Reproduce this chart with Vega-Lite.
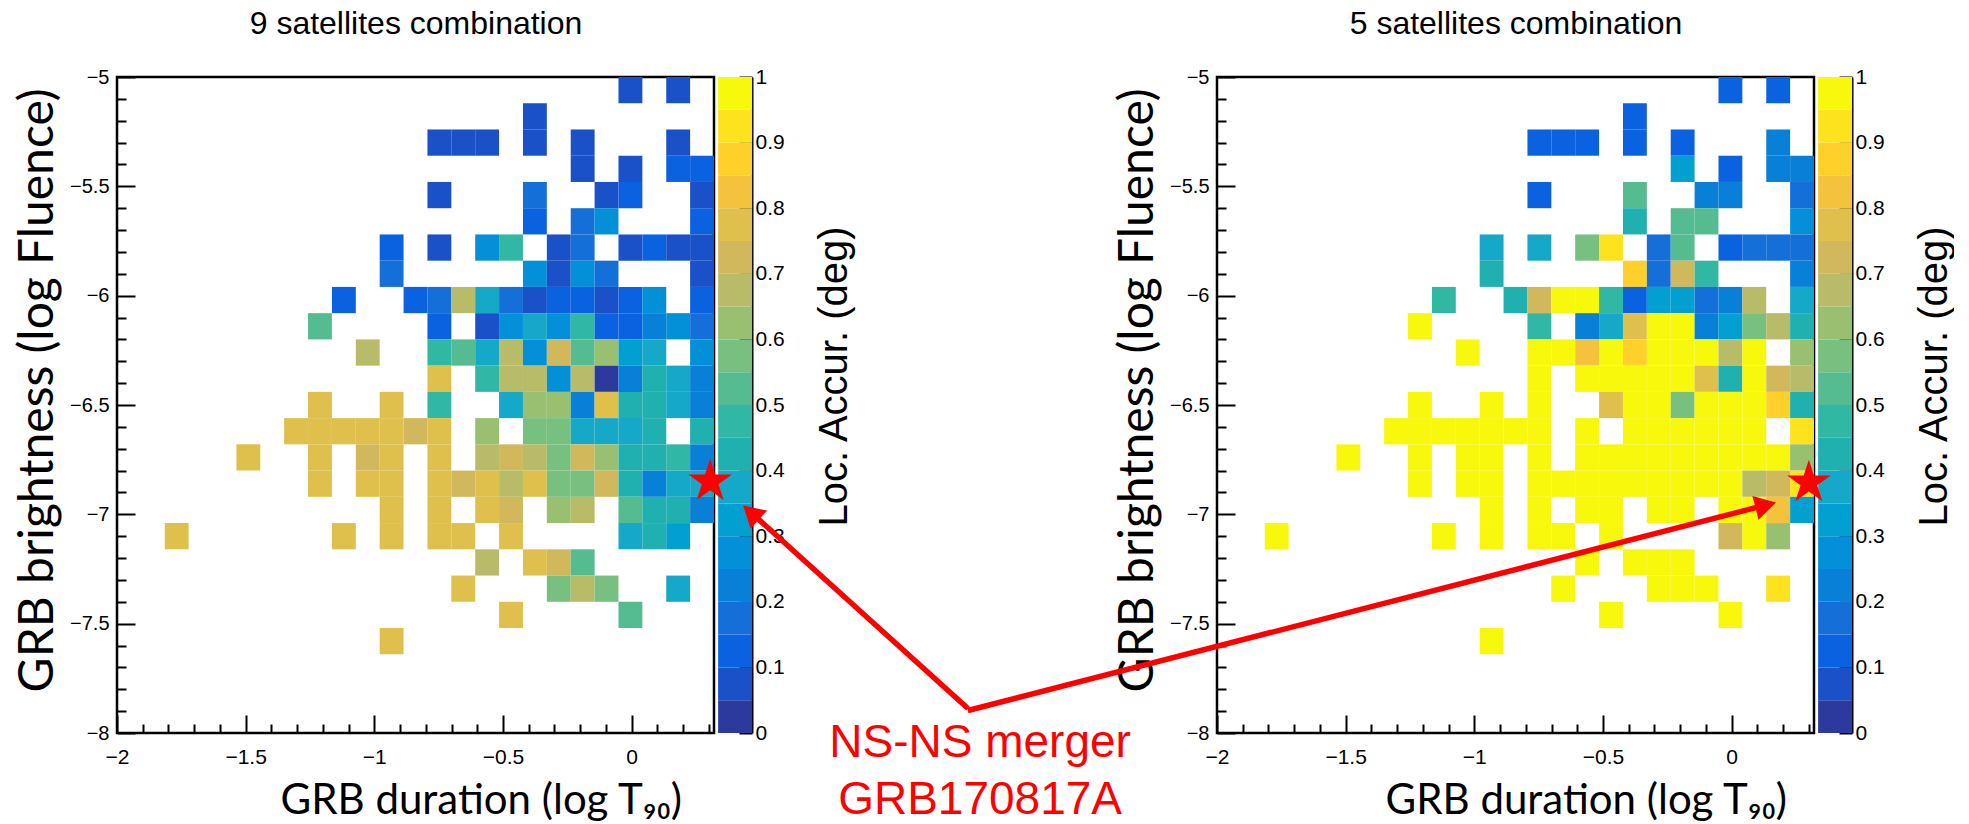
{
  "$schema": "https://vega.github.io/schema/vega-lite/v6.json",
  "background": "white",
  "padding": {"left": 14, "top": 7, "right": 0, "bottom": 0},
  "width": 1697,
  "height": 656,
  "config": {
    "view": {"stroke": null},
    "axis": {"grid": false, "domain": false, "labelFont": "Liberation Sans", "labelColor": "black", "tickColor": "black", "tickWidth": 2, "titleColor": "black", "titleFontWeight": "normal", "labelFlush": false, "labelOverlap": false}
  },
  "datasets": {
    "cells": [
      {"x0": -0.0512, "x1": 0.0416, "y0": -5, "y1": -5.12, "nine": 0.075, "five": 0.125},
      {"x0": 0.1344, "x1": 0.2272, "y0": -5, "y1": -5.12, "nine": 0.075, "five": 0.125},
      {"x0": -0.4224, "x1": -0.3296, "y0": -5.12, "y1": -5.24, "nine": 0.075, "five": 0.125},
      {"x0": -0.7936, "x1": -0.7008, "y0": -5.24, "y1": -5.36, "nine": 0.075, "five": 0.125},
      {"x0": -0.7008, "x1": -0.608, "y0": -5.24, "y1": -5.36, "nine": 0.075, "five": 0.125},
      {"x0": -0.608, "x1": -0.5152, "y0": -5.24, "y1": -5.36, "nine": 0.075, "five": 0.125},
      {"x0": -0.4224, "x1": -0.3296, "y0": -5.24, "y1": -5.36, "nine": 0.075, "five": 0.125},
      {"x0": -0.2368, "x1": -0.144, "y0": -5.24, "y1": -5.36, "nine": 0.075, "five": 0.125},
      {"x0": 0.1344, "x1": 0.2272, "y0": -5.24, "y1": -5.36, "nine": 0.075, "five": 0.225},
      {"x0": -0.2368, "x1": -0.144, "y0": -5.36, "y1": -5.48, "nine": 0.075, "five": 0.325},
      {"x0": -0.0512, "x1": 0.0416, "y0": -5.36, "y1": -5.48, "nine": 0.075, "five": 0.125},
      {"x0": 0.1344, "x1": 0.2272, "y0": -5.36, "y1": -5.48, "nine": 0.125, "five": 0.225},
      {"x0": 0.2272, "x1": 0.32, "y0": -5.36, "y1": -5.48, "nine": 0.125, "five": 0.225},
      {"x0": -0.7936, "x1": -0.7008, "y0": -5.48, "y1": -5.6, "nine": 0.075, "five": 0.125},
      {"x0": -0.4224, "x1": -0.3296, "y0": -5.48, "y1": -5.6, "nine": 0.175, "five": 0.525},
      {"x0": -0.144, "x1": -0.0512, "y0": -5.48, "y1": -5.6, "nine": 0.075, "five": 0.225},
      {"x0": -0.0512, "x1": 0.0416, "y0": -5.48, "y1": -5.6, "nine": 0.125, "five": 0.225},
      {"x0": 0.2272, "x1": 0.32, "y0": -5.48, "y1": -5.6, "nine": 0.075, "five": 0.175},
      {"x0": -0.4224, "x1": -0.3296, "y0": -5.6, "y1": -5.72, "nine": 0.125, "five": 0.425},
      {"x0": -0.2368, "x1": -0.144, "y0": -5.6, "y1": -5.72, "nine": 0.175, "five": 0.525},
      {"x0": -0.144, "x1": -0.0512, "y0": -5.6, "y1": -5.72, "nine": 0.275, "five": 0.525},
      {"x0": 0.2272, "x1": 0.32, "y0": -5.6, "y1": -5.72, "nine": 0.125, "five": 0.275},
      {"x0": -0.9792, "x1": -0.8864, "y0": -5.72, "y1": -5.84, "nine": 0.125, "five": 0.375},
      {"x0": -0.7936, "x1": -0.7008, "y0": -5.72, "y1": -5.84, "nine": 0.075, "five": 0.375},
      {"x0": -0.608, "x1": -0.5152, "y0": -5.72, "y1": -5.84, "nine": 0.275, "five": 0.575},
      {"x0": -0.5152, "x1": -0.4224, "y0": -5.72, "y1": -5.84, "nine": 0.475, "five": 0.925},
      {"x0": -0.3296, "x1": -0.2368, "y0": -5.72, "y1": -5.84, "nine": 0.075, "five": 0.175},
      {"x0": -0.2368, "x1": -0.144, "y0": -5.72, "y1": -5.84, "nine": 0.175, "five": 0.525},
      {"x0": -0.0512, "x1": 0.0416, "y0": -5.72, "y1": -5.84, "nine": 0.075, "five": 0.125},
      {"x0": 0.0416, "x1": 0.1344, "y0": -5.72, "y1": -5.84, "nine": 0.125, "five": 0.175},
      {"x0": 0.1344, "x1": 0.2272, "y0": -5.72, "y1": -5.84, "nine": 0.075, "five": 0.175},
      {"x0": 0.2272, "x1": 0.32, "y0": -5.72, "y1": -5.84, "nine": 0.075, "five": 0.175},
      {"x0": -0.9792, "x1": -0.8864, "y0": -5.84, "y1": -5.96, "nine": 0.175, "five": 0.425},
      {"x0": -0.4224, "x1": -0.3296, "y0": -5.84, "y1": -5.96, "nine": 0.275, "five": 0.875},
      {"x0": -0.3296, "x1": -0.2368, "y0": -5.84, "y1": -5.96, "nine": 0.075, "five": 0.175},
      {"x0": -0.2368, "x1": -0.144, "y0": -5.84, "y1": -5.96, "nine": 0.275, "five": 0.725},
      {"x0": -0.144, "x1": -0.0512, "y0": -5.84, "y1": -5.96, "nine": 0.175, "five": 0.475},
      {"x0": 0.2272, "x1": 0.32, "y0": -5.84, "y1": -5.96, "nine": 0.075, "five": 0.225},
      {"x0": -1.1648, "x1": -1.072, "y0": -5.96, "y1": -6.08, "nine": 0.125, "five": 0.475},
      {"x0": -0.8864, "x1": -0.7936, "y0": -5.96, "y1": -6.08, "nine": 0.125, "five": 0.425},
      {"x0": -0.7936, "x1": -0.7008, "y0": -5.96, "y1": -6.08, "nine": 0.175, "five": 0.725},
      {"x0": -0.7008, "x1": -0.608, "y0": -5.96, "y1": -6.08, "nine": 0.675, "five": 0.975},
      {"x0": -0.608, "x1": -0.5152, "y0": -5.96, "y1": -6.08, "nine": 0.375, "five": 0.975},
      {"x0": -0.5152, "x1": -0.4224, "y0": -5.96, "y1": -6.08, "nine": 0.175, "five": 0.475},
      {"x0": -0.4224, "x1": -0.3296, "y0": -5.96, "y1": -6.08, "nine": 0.075, "five": 0.125},
      {"x0": -0.3296, "x1": -0.2368, "y0": -5.96, "y1": -6.08, "nine": 0.125, "five": 0.325},
      {"x0": -0.2368, "x1": -0.144, "y0": -5.96, "y1": -6.08, "nine": 0.125, "five": 0.325},
      {"x0": -0.144, "x1": -0.0512, "y0": -5.96, "y1": -6.08, "nine": 0.075, "five": 0.175},
      {"x0": -0.0512, "x1": 0.0416, "y0": -5.96, "y1": -6.08, "nine": 0.125, "five": 0.225},
      {"x0": 0.0416, "x1": 0.1344, "y0": -5.96, "y1": -6.08, "nine": 0.275, "five": 0.675},
      {"x0": 0.2272, "x1": 0.32, "y0": -5.96, "y1": -6.08, "nine": 0.125, "five": 0.375},
      {"x0": -1.2576, "x1": -1.1648, "y0": -6.08, "y1": -6.2, "nine": 0.525, "five": 0.975},
      {"x0": -0.7936, "x1": -0.7008, "y0": -6.08, "y1": -6.2, "nine": 0.125, "five": 0.475},
      {"x0": -0.608, "x1": -0.5152, "y0": -6.08, "y1": -6.2, "nine": 0.075, "five": 0.225},
      {"x0": -0.5152, "x1": -0.4224, "y0": -6.08, "y1": -6.2, "nine": 0.275, "five": 0.375},
      {"x0": -0.4224, "x1": -0.3296, "y0": -6.08, "y1": -6.2, "nine": 0.375, "five": 0.775},
      {"x0": -0.3296, "x1": -0.2368, "y0": -6.08, "y1": -6.2, "nine": 0.275, "five": 0.975},
      {"x0": -0.2368, "x1": -0.144, "y0": -6.08, "y1": -6.2, "nine": 0.475, "five": 0.975},
      {"x0": -0.144, "x1": -0.0512, "y0": -6.08, "y1": -6.2, "nine": 0.125, "five": 0.225},
      {"x0": -0.0512, "x1": 0.0416, "y0": -6.08, "y1": -6.2, "nine": 0.125, "five": 0.325},
      {"x0": 0.0416, "x1": 0.1344, "y0": -6.08, "y1": -6.2, "nine": 0.225, "five": 0.575},
      {"x0": 0.1344, "x1": 0.2272, "y0": -6.08, "y1": -6.2, "nine": 0.275, "five": 0.675},
      {"x0": 0.2272, "x1": 0.32, "y0": -6.08, "y1": -6.2, "nine": 0.175, "five": 0.425},
      {"x0": -1.072, "x1": -0.9792, "y0": -6.2, "y1": -6.32, "nine": 0.675, "five": 0.975},
      {"x0": -0.7936, "x1": -0.7008, "y0": -6.2, "y1": -6.32, "nine": 0.475, "five": 0.975},
      {"x0": -0.7008, "x1": -0.608, "y0": -6.2, "y1": -6.32, "nine": 0.525, "five": 0.975},
      {"x0": -0.608, "x1": -0.5152, "y0": -6.2, "y1": -6.32, "nine": 0.375, "five": 0.825},
      {"x0": -0.5152, "x1": -0.4224, "y0": -6.2, "y1": -6.32, "nine": 0.675, "five": 0.975},
      {"x0": -0.4224, "x1": -0.3296, "y0": -6.2, "y1": -6.32, "nine": 0.275, "five": 0.875},
      {"x0": -0.3296, "x1": -0.2368, "y0": -6.2, "y1": -6.32, "nine": 0.725, "five": 0.975},
      {"x0": -0.2368, "x1": -0.144, "y0": -6.2, "y1": -6.32, "nine": 0.525, "five": 0.975},
      {"x0": -0.144, "x1": -0.0512, "y0": -6.2, "y1": -6.32, "nine": 0.625, "five": 0.975},
      {"x0": -0.0512, "x1": 0.0416, "y0": -6.2, "y1": -6.32, "nine": 0.325, "five": 0.675},
      {"x0": 0.0416, "x1": 0.1344, "y0": -6.2, "y1": -6.32, "nine": 0.375, "five": 0.975},
      {"x0": 0.2272, "x1": 0.32, "y0": -6.2, "y1": -6.32, "nine": 0.275, "five": 0.625},
      {"x0": -0.7936, "x1": -0.7008, "y0": -6.32, "y1": -6.44, "nine": 0.775, "five": 0.975},
      {"x0": -0.608, "x1": -0.5152, "y0": -6.32, "y1": -6.44, "nine": 0.475, "five": 0.975},
      {"x0": -0.5152, "x1": -0.4224, "y0": -6.32, "y1": -6.44, "nine": 0.675, "five": 0.975},
      {"x0": -0.4224, "x1": -0.3296, "y0": -6.32, "y1": -6.44, "nine": 0.675, "five": 0.975},
      {"x0": -0.3296, "x1": -0.2368, "y0": -6.32, "y1": -6.44, "nine": 0.275, "five": 0.975},
      {"x0": -0.2368, "x1": -0.144, "y0": -6.32, "y1": -6.44, "nine": 0.675, "five": 0.975},
      {"x0": -0.144, "x1": -0.0512, "y0": -6.32, "y1": -6.44, "nine": 0.025, "five": 0.775},
      {"x0": -0.0512, "x1": 0.0416, "y0": -6.32, "y1": -6.44, "nine": 0.225, "five": 0.425},
      {"x0": 0.0416, "x1": 0.1344, "y0": -6.32, "y1": -6.44, "nine": 0.425, "five": 0.975},
      {"x0": 0.1344, "x1": 0.2272, "y0": -6.32, "y1": -6.44, "nine": 0.375, "five": 0.725},
      {"x0": 0.2272, "x1": 0.32, "y0": -6.32, "y1": -6.44, "nine": 0.225, "five": 0.675},
      {"x0": -1.2576, "x1": -1.1648, "y0": -6.44, "y1": -6.56, "nine": 0.775, "five": 0.975},
      {"x0": -0.9792, "x1": -0.8864, "y0": -6.44, "y1": -6.56, "nine": 0.775, "five": 0.975},
      {"x0": -0.7936, "x1": -0.7008, "y0": -6.44, "y1": -6.56, "nine": 0.475, "five": 0.975},
      {"x0": -0.5152, "x1": -0.4224, "y0": -6.44, "y1": -6.56, "nine": 0.375, "five": 0.775},
      {"x0": -0.4224, "x1": -0.3296, "y0": -6.44, "y1": -6.56, "nine": 0.625, "five": 0.975},
      {"x0": -0.3296, "x1": -0.2368, "y0": -6.44, "y1": -6.56, "nine": 0.625, "five": 0.975},
      {"x0": -0.2368, "x1": -0.144, "y0": -6.44, "y1": -6.56, "nine": 0.225, "five": 0.575},
      {"x0": -0.144, "x1": -0.0512, "y0": -6.44, "y1": -6.56, "nine": 0.775, "five": 0.975},
      {"x0": -0.0512, "x1": 0.0416, "y0": -6.44, "y1": -6.56, "nine": 0.425, "five": 0.975},
      {"x0": 0.0416, "x1": 0.1344, "y0": -6.44, "y1": -6.56, "nine": 0.425, "five": 0.975},
      {"x0": 0.1344, "x1": 0.2272, "y0": -6.44, "y1": -6.56, "nine": 0.375, "five": 0.875},
      {"x0": 0.2272, "x1": 0.32, "y0": -6.44, "y1": -6.56, "nine": 0.225, "five": 0.425},
      {"x0": -1.3504, "x1": -1.2576, "y0": -6.56, "y1": -6.68, "nine": 0.775, "five": 0.975},
      {"x0": -1.2576, "x1": -1.1648, "y0": -6.56, "y1": -6.68, "nine": 0.775, "five": 0.975},
      {"x0": -1.1648, "x1": -1.072, "y0": -6.56, "y1": -6.68, "nine": 0.775, "five": 0.975},
      {"x0": -1.072, "x1": -0.9792, "y0": -6.56, "y1": -6.68, "nine": 0.775, "five": 0.975},
      {"x0": -0.9792, "x1": -0.8864, "y0": -6.56, "y1": -6.68, "nine": 0.775, "five": 0.975},
      {"x0": -0.8864, "x1": -0.7936, "y0": -6.56, "y1": -6.68, "nine": 0.725, "five": 0.975},
      {"x0": -0.7936, "x1": -0.7008, "y0": -6.56, "y1": -6.68, "nine": 0.775, "five": 0.975},
      {"x0": -0.608, "x1": -0.5152, "y0": -6.56, "y1": -6.68, "nine": 0.625, "five": 0.975},
      {"x0": -0.4224, "x1": -0.3296, "y0": -6.56, "y1": -6.68, "nine": 0.575, "five": 0.975},
      {"x0": -0.3296, "x1": -0.2368, "y0": -6.56, "y1": -6.68, "nine": 0.575, "five": 0.975},
      {"x0": -0.2368, "x1": -0.144, "y0": -6.56, "y1": -6.68, "nine": 0.375, "five": 0.975},
      {"x0": -0.144, "x1": -0.0512, "y0": -6.56, "y1": -6.68, "nine": 0.375, "five": 0.975},
      {"x0": -0.0512, "x1": 0.0416, "y0": -6.56, "y1": -6.68, "nine": 0.375, "five": 0.975},
      {"x0": 0.0416, "x1": 0.1344, "y0": -6.56, "y1": -6.68, "nine": 0.425, "five": 0.975},
      {"x0": 0.2272, "x1": 0.32, "y0": -6.56, "y1": -6.68, "nine": 0.425, "five": 0.925},
      {"x0": -1.536, "x1": -1.4432, "y0": -6.68, "y1": -6.8, "nine": 0.775, "five": 0.975},
      {"x0": -1.2576, "x1": -1.1648, "y0": -6.68, "y1": -6.8, "nine": 0.775, "five": 0.975},
      {"x0": -1.072, "x1": -0.9792, "y0": -6.68, "y1": -6.8, "nine": 0.725, "five": 0.975},
      {"x0": -0.9792, "x1": -0.8864, "y0": -6.68, "y1": -6.8, "nine": 0.775, "five": 0.975},
      {"x0": -0.7936, "x1": -0.7008, "y0": -6.68, "y1": -6.8, "nine": 0.775, "five": 0.975},
      {"x0": -0.608, "x1": -0.5152, "y0": -6.68, "y1": -6.8, "nine": 0.675, "five": 0.975},
      {"x0": -0.5152, "x1": -0.4224, "y0": -6.68, "y1": -6.8, "nine": 0.725, "five": 0.975},
      {"x0": -0.4224, "x1": -0.3296, "y0": -6.68, "y1": -6.8, "nine": 0.675, "five": 0.975},
      {"x0": -0.3296, "x1": -0.2368, "y0": -6.68, "y1": -6.8, "nine": 0.575, "five": 0.975},
      {"x0": -0.2368, "x1": -0.144, "y0": -6.68, "y1": -6.8, "nine": 0.725, "five": 0.975},
      {"x0": -0.144, "x1": -0.0512, "y0": -6.68, "y1": -6.8, "nine": 0.625, "five": 0.975},
      {"x0": -0.0512, "x1": 0.0416, "y0": -6.68, "y1": -6.8, "nine": 0.425, "five": 0.975},
      {"x0": 0.0416, "x1": 0.1344, "y0": -6.68, "y1": -6.8, "nine": 0.425, "five": 0.975},
      {"x0": 0.1344, "x1": 0.2272, "y0": -6.68, "y1": -6.8, "nine": 0.475, "five": 0.975},
      {"x0": 0.2272, "x1": 0.32, "y0": -6.68, "y1": -6.8, "nine": 0.225, "five": 0.625},
      {"x0": -1.2576, "x1": -1.1648, "y0": -6.8, "y1": -6.92, "nine": 0.775, "five": 0.975},
      {"x0": -1.072, "x1": -0.9792, "y0": -6.8, "y1": -6.92, "nine": 0.775, "five": 0.975},
      {"x0": -0.9792, "x1": -0.8864, "y0": -6.8, "y1": -6.92, "nine": 0.775, "five": 0.975},
      {"x0": -0.7936, "x1": -0.7008, "y0": -6.8, "y1": -6.92, "nine": 0.775, "five": 0.975},
      {"x0": -0.7008, "x1": -0.608, "y0": -6.8, "y1": -6.92, "nine": 0.725, "five": 0.975},
      {"x0": -0.608, "x1": -0.5152, "y0": -6.8, "y1": -6.92, "nine": 0.775, "five": 0.975},
      {"x0": -0.5152, "x1": -0.4224, "y0": -6.8, "y1": -6.92, "nine": 0.675, "five": 0.975},
      {"x0": -0.4224, "x1": -0.3296, "y0": -6.8, "y1": -6.92, "nine": 0.775, "five": 0.975},
      {"x0": -0.3296, "x1": -0.2368, "y0": -6.8, "y1": -6.92, "nine": 0.575, "five": 0.975},
      {"x0": -0.2368, "x1": -0.144, "y0": -6.8, "y1": -6.92, "nine": 0.575, "five": 0.975},
      {"x0": -0.144, "x1": -0.0512, "y0": -6.8, "y1": -6.92, "nine": 0.725, "five": 0.975},
      {"x0": -0.0512, "x1": 0.0416, "y0": -6.8, "y1": -6.92, "nine": 0.425, "five": 0.975},
      {"x0": 0.0416, "x1": 0.1344, "y0": -6.8, "y1": -6.92, "nine": 0.225, "five": 0.675},
      {"x0": 0.1344, "x1": 0.2272, "y0": -6.8, "y1": -6.92, "nine": 0.375, "five": 0.725},
      {"x0": 0.2272, "x1": 0.32, "y0": -6.8, "y1": -6.92, "nine": 0.375, "five": 0.925},
      {"x0": -0.9792, "x1": -0.8864, "y0": -6.92, "y1": -7.04, "nine": 0.775, "five": 0.975},
      {"x0": -0.7936, "x1": -0.7008, "y0": -6.92, "y1": -7.04, "nine": 0.775, "five": 0.975},
      {"x0": -0.608, "x1": -0.5152, "y0": -6.92, "y1": -7.04, "nine": 0.775, "five": 0.975},
      {"x0": -0.5152, "x1": -0.4224, "y0": -6.92, "y1": -7.04, "nine": 0.725, "five": 0.975},
      {"x0": -0.3296, "x1": -0.2368, "y0": -6.92, "y1": -7.04, "nine": 0.625, "five": 0.975},
      {"x0": -0.2368, "x1": -0.144, "y0": -6.92, "y1": -7.04, "nine": 0.675, "five": 0.975},
      {"x0": -0.0512, "x1": 0.0416, "y0": -6.92, "y1": -7.04, "nine": 0.525, "five": 0.975},
      {"x0": 0.0416, "x1": 0.1344, "y0": -6.92, "y1": -7.04, "nine": 0.425, "five": 0.975},
      {"x0": 0.1344, "x1": 0.2272, "y0": -6.92, "y1": -7.04, "nine": 0.425, "five": 0.825},
      {"x0": 0.2272, "x1": 0.32, "y0": -6.92, "y1": -7.04, "nine": 0.225, "five": 0.325},
      {"x0": -1.8144, "x1": -1.7216, "y0": -7.04, "y1": -7.16, "nine": 0.775, "five": 0.975},
      {"x0": -1.1648, "x1": -1.072, "y0": -7.04, "y1": -7.16, "nine": 0.775, "five": 0.975},
      {"x0": -0.9792, "x1": -0.8864, "y0": -7.04, "y1": -7.16, "nine": 0.775, "five": 0.975},
      {"x0": -0.7936, "x1": -0.7008, "y0": -7.04, "y1": -7.16, "nine": 0.775, "five": 0.975},
      {"x0": -0.7008, "x1": -0.608, "y0": -7.04, "y1": -7.16, "nine": 0.775, "five": 0.975},
      {"x0": -0.5152, "x1": -0.4224, "y0": -7.04, "y1": -7.16, "nine": 0.775, "five": 0.975},
      {"x0": -0.0512, "x1": 0.0416, "y0": -7.04, "y1": -7.16, "nine": 0.375, "five": 0.725},
      {"x0": 0.0416, "x1": 0.1344, "y0": -7.04, "y1": -7.16, "nine": 0.425, "five": 0.975},
      {"x0": 0.1344, "x1": 0.2272, "y0": -7.04, "y1": -7.16, "nine": 0.325, "five": 0.625},
      {"x0": -0.608, "x1": -0.5152, "y0": -7.16, "y1": -7.28, "nine": 0.675, "five": 0.975},
      {"x0": -0.4224, "x1": -0.3296, "y0": -7.16, "y1": -7.28, "nine": 0.775, "five": 0.975},
      {"x0": -0.3296, "x1": -0.2368, "y0": -7.16, "y1": -7.28, "nine": 0.725, "five": 0.975},
      {"x0": -0.2368, "x1": -0.144, "y0": -7.16, "y1": -7.28, "nine": 0.525, "five": 0.975},
      {"x0": -0.7008, "x1": -0.608, "y0": -7.28, "y1": -7.4, "nine": 0.775, "five": 0.975},
      {"x0": -0.3296, "x1": -0.2368, "y0": -7.28, "y1": -7.4, "nine": 0.575, "five": 0.975},
      {"x0": -0.2368, "x1": -0.144, "y0": -7.28, "y1": -7.4, "nine": 0.675, "five": 0.975},
      {"x0": -0.144, "x1": -0.0512, "y0": -7.28, "y1": -7.4, "nine": 0.575, "five": 0.975},
      {"x0": 0.1344, "x1": 0.2272, "y0": -7.28, "y1": -7.4, "nine": 0.375, "five": 0.925},
      {"x0": -0.5152, "x1": -0.4224, "y0": -7.4, "y1": -7.52, "nine": 0.775, "five": 0.975},
      {"x0": -0.0512, "x1": 0.0416, "y0": -7.4, "y1": -7.52, "nine": 0.525, "five": 0.975},
      {"x0": -0.9792, "x1": -0.8864, "y0": -7.52, "y1": -7.64, "nine": 0.775, "five": 0.975}
    ],
    "cbar": [
      {"lo": 0, "hi": 0.05, "v": 0.025}, {"lo": 0.05, "hi": 0.1, "v": 0.075},
      {"lo": 0.1, "hi": 0.15, "v": 0.125}, {"lo": 0.15, "hi": 0.2, "v": 0.175},
      {"lo": 0.2, "hi": 0.25, "v": 0.225}, {"lo": 0.25, "hi": 0.3, "v": 0.275},
      {"lo": 0.3, "hi": 0.35, "v": 0.325}, {"lo": 0.35, "hi": 0.4, "v": 0.375},
      {"lo": 0.4, "hi": 0.45, "v": 0.425}, {"lo": 0.45, "hi": 0.5, "v": 0.475},
      {"lo": 0.5, "hi": 0.55, "v": 0.525}, {"lo": 0.55, "hi": 0.6, "v": 0.575},
      {"lo": 0.6, "hi": 0.65, "v": 0.625}, {"lo": 0.65, "hi": 0.7, "v": 0.675},
      {"lo": 0.7, "hi": 0.75, "v": 0.725}, {"lo": 0.75, "hi": 0.8, "v": 0.775},
      {"lo": 0.8, "hi": 0.85, "v": 0.825}, {"lo": 0.85, "hi": 0.9, "v": 0.875},
      {"lo": 0.9, "hi": 0.95, "v": 0.925}, {"lo": 0.95, "hi": 1, "v": 0.975}
    ]
  },
  "resolve": {"scale": {"x": "independent", "y": "independent"}, "axis": {"x": "independent", "y": "independent"}},
  "layer": [
    {
      "data": {"values": [{"panel": "9 satellites combination"}]},
      "mark": {"type": "rect", "fillOpacity": 0, "stroke": "black", "strokeWidth": 2.5},
      "encoding": {
        "x": {"datum": -2, "type": "quantitative", "scale": {"domain": [-2, 4.5947], "nice": false, "zero": false},
          "axis": {"orient": "top", "ticks": false, "labels": false, "title": "9 satellites combination", "titleFont": "Liberation Sans", "titleFontSize": 32, "titleX": 298.5, "titleY": -43.5, "titleAlign": "center", "titleBaseline": "alphabetic"}},
        "x2": {"datum": 0.32},
        "y": {"datum": -8, "type": "quantitative", "scale": {"domain": [-8, -5], "nice": false, "zero": false}, "axis": null},
        "y2": {"datum": -5}
      }
    },
    {
      "data": {"values": [{"panel": "5 satellites combination"}]},
      "mark": {"type": "rect", "fillOpacity": 0, "stroke": "black", "strokeWidth": 2.5},
      "encoding": {
        "x": {"datum": -2, "type": "quantitative", "scale": {"domain": [-6.2747, 0.32], "nice": false, "zero": false},
          "axis": {"orient": "top", "ticks": false, "labels": false, "title": "5 satellites combination", "titleFont": "Liberation Sans", "titleFontSize": 32, "titleX": 1398.5, "titleY": -43.5, "titleAlign": "center", "titleBaseline": "alphabetic"}},
        "x2": {"datum": 0.32},
        "y": {"datum": -8, "type": "quantitative", "scale": {"domain": [-8, -5], "nice": false, "zero": false}, "axis": null},
        "y2": {"datum": -5}
      }
    },
    {
      "data": {"name": "cells"},
      "mark": {"type": "rect", "strokeWidth": 0},
      "encoding": {
        "x": {"field": "x0", "type": "quantitative", "scale": {"domain": [-2, 4.5947], "nice": false, "zero": false},
          "axis": {"orient": "bottom", "values": [-2, -1.5, -1, -0.5, 0], "format": ".1~f", "tickSize": -18, "labelPadding": 31, "labelFontSize": 21,
            "title": "GRB duration (log T₉₀)", "titleFont": "Lato", "titleFontSize": 42, "titleX": 163, "titleY": 80, "titleAlign": "left", "titleBaseline": "alphabetic"}},
        "x2": {"field": "x1"},
        "y": {"field": "y0", "type": "quantitative", "scale": {"domain": [-8, -5], "nice": false, "zero": false},
          "axis": {"orient": "left", "values": [-8, -7.5, -7, -6.5, -6, -5.5, -5], "format": ".1~f", "tickSize": -18, "labelPadding": 26, "labelFontSize": 20,
            "title": "GRB brightness (log Fluence)", "titleFont": "Lato", "titleFontSize": 48, "titleAngle": -90, "titleX": -65, "titleY": 313, "titleAlign": "center", "titleBaseline": "alphabetic"}},
        "y2": {"field": "y1"},
        "color": {"field": "nine", "type": "quantitative", "legend": null,
          "scale": {"type": "threshold", "domain": [0.05, 0.1, 0.15, 0.2, 0.25, 0.3, 0.35, 0.4, 0.45, 0.5, 0.55, 0.6, 0.65, 0.7, 0.75, 0.8, 0.85, 0.9, 0.95],
            "range": ["#2c3a9e", "#1a50c8", "#0b62e0", "#1470d8", "#0880d8", "#0490d8", "#02a0d0", "#16a8c8", "#20b0b0", "#30b8a4", "#55bc92", "#78c080", "#98c070", "#b8bc68", "#d2b85c", "#e0c04c", "#f4c23c", "#ffd02a", "#fce31e", "#f8f80c"]}}
      }
    },
    {
      "data": {"name": "cells"},
      "mark": {"type": "rect", "strokeWidth": 0},
      "encoding": {
        "x": {"field": "x0", "type": "quantitative", "scale": {"domain": [-6.2747, 0.32], "nice": false, "zero": false},
          "axis": {"orient": "bottom", "values": [-2, -1.5, -1, -0.5, 0], "format": ".1~f", "tickSize": -18, "labelPadding": 31, "labelFontSize": 21,
            "title": "GRB duration (log T₉₀)", "titleFont": "Lato", "titleFontSize": 42, "titleX": 1268, "titleY": 80, "titleAlign": "left", "titleBaseline": "alphabetic"}},
        "x2": {"field": "x1"},
        "y": {"field": "y0", "type": "quantitative", "scale": {"domain": [-8, -5], "nice": false, "zero": false},
          "axis": {"orient": "left", "offset": -1100, "values": [-8, -7.5, -7, -6.5, -6, -5.5, -5], "format": ".1~f", "tickSize": -18, "labelPadding": 26, "labelFontSize": 20,
            "title": "GRB brightness (log Fluence)", "titleFont": "Lato", "titleFontSize": 48, "titleAngle": -90, "titleX": -65, "titleY": 313, "titleAlign": "center", "titleBaseline": "alphabetic"}},
        "y2": {"field": "y1"},
        "color": {"field": "five", "type": "quantitative", "legend": null,
          "scale": {"type": "threshold", "domain": [0.05, 0.1, 0.15, 0.2, 0.25, 0.3, 0.35, 0.4, 0.45, 0.5, 0.55, 0.6, 0.65, 0.7, 0.75, 0.8, 0.85, 0.9, 0.95],
            "range": ["#2c3a9e", "#1a50c8", "#0b62e0", "#1470d8", "#0880d8", "#0490d8", "#02a0d0", "#16a8c8", "#20b0b0", "#30b8a4", "#55bc92", "#78c080", "#98c070", "#b8bc68", "#d2b85c", "#e0c04c", "#f4c23c", "#ffd02a", "#fce31e", "#f8f80c"]}}
      }
    },
    {
      "data": {"name": "cbar"},
      "mark": {"type": "rect", "strokeWidth": 0},
      "encoding": {
        "x": {"datum": 0.336, "type": "quantitative", "scale": {"domain": [-2, 4.5947], "nice": false, "zero": false}, "axis": null},
        "x2": {"datum": 0.468},
        "y": {"field": "lo", "type": "quantitative", "scale": {"domain": [0, 1], "nice": false, "zero": false},
          "axis": {"orient": "right", "offset": -1062, "values": [0, 0.1, 0.2, 0.3, 0.4, 0.5, 0.6, 0.7, 0.8, 0.9, 1], "format": ".1~f", "tickSize": -13, "labelPadding": 16, "labelFontSize": 21,
            "domain": true, "domainColor": "black", "domainWidth": 2,
            "title": "Loc. Accur. (deg)", "titleFont": "Liberation Sans", "titleFontSize": 40, "titleAngle": -90, "titleX": 94, "titleY": 299, "titleAlign": "center", "titleBaseline": "alphabetic"}},
        "y2": {"field": "hi"},
        "color": {"field": "v", "type": "quantitative", "legend": null,
          "scale": {"type": "threshold", "domain": [0.05, 0.1, 0.15, 0.2, 0.25, 0.3, 0.35, 0.4, 0.45, 0.5, 0.55, 0.6, 0.65, 0.7, 0.75, 0.8, 0.85, 0.9, 0.95],
            "range": ["#2c3a9e", "#1a50c8", "#0b62e0", "#1470d8", "#0880d8", "#0490d8", "#02a0d0", "#16a8c8", "#20b0b0", "#30b8a4", "#55bc92", "#78c080", "#98c070", "#b8bc68", "#d2b85c", "#e0c04c", "#f4c23c", "#ffd02a", "#fce31e", "#f8f80c"]}}
      }
    },
    {
      "data": {"name": "cbar"},
      "mark": {"type": "rect", "strokeWidth": 0},
      "encoding": {
        "x": {"datum": 0.336, "type": "quantitative", "scale": {"domain": [-6.2747, 0.32], "nice": false, "zero": false}, "axis": null},
        "x2": {"datum": 0.468},
        "y": {"field": "lo", "type": "quantitative", "scale": {"domain": [0, 1], "nice": false, "zero": false},
          "axis": {"orient": "right", "offset": 38, "values": [0, 0.1, 0.2, 0.3, 0.4, 0.5, 0.6, 0.7, 0.8, 0.9, 1], "format": ".1~f", "tickSize": -13, "labelPadding": 16, "labelFontSize": 21,
            "domain": true, "domainColor": "black", "domainWidth": 2,
            "title": "Loc. Accur. (deg)", "titleFont": "Liberation Sans", "titleFontSize": 40, "titleAngle": -90, "titleX": 94, "titleY": 299, "titleAlign": "center", "titleBaseline": "alphabetic"}},
        "y2": {"field": "hi"},
        "color": {"field": "v", "type": "quantitative", "legend": null,
          "scale": {"type": "threshold", "domain": [0.05, 0.1, 0.15, 0.2, 0.25, 0.3, 0.35, 0.4, 0.45, 0.5, 0.55, 0.6, 0.65, 0.7, 0.75, 0.8, 0.85, 0.9, 0.95],
            "range": ["#2c3a9e", "#1a50c8", "#0b62e0", "#1470d8", "#0880d8", "#0490d8", "#02a0d0", "#16a8c8", "#20b0b0", "#30b8a4", "#55bc92", "#78c080", "#98c070", "#b8bc68", "#d2b85c", "#e0c04c", "#f4c23c", "#ffd02a", "#fce31e", "#f8f80c"]}}
      }
    },
    {
      "data": {"values": [{"x": 0.305, "y": -6.85}]},
      "mark": {"type": "point", "shape": "M0,-1L0.2245,-0.309L0.9511,-0.309L0.3633,0.118L0.5878,0.809L0,0.382L-0.5878,0.809L-0.3633,0.118L-0.9511,-0.309L-0.2245,-0.309Z", "filled": true, "color": "#ff0000", "opacity": 1, "size": 2100},
      "encoding": {
        "x": {"field": "x", "type": "quantitative", "scale": {"domain": [-2, 4.5947], "nice": false, "zero": false},
          "axis": {"orient": "bottom", "values": [-1.9, -1.8, -1.7, -1.6, -1.4, -1.3, -1.2, -1.1, -0.9, -0.8, -0.7, -0.6, -0.4, -0.3, -0.2, -0.1, 0.1, 0.2, 0.3], "tickSize": -9, "labels": false, "title": null}},
        "y": {"field": "y", "type": "quantitative", "scale": {"domain": [-8, -5], "nice": false, "zero": false},
          "axis": {"orient": "left", "values": [-7.9, -7.8, -7.7, -7.6, -7.4, -7.3, -7.2, -7.1, -6.9, -6.8, -6.7, -6.6, -6.4, -6.3, -6.2, -6.1, -5.9, -5.8, -5.7, -5.6, -5.4, -5.3, -5.2, -5.1], "tickSize": -9, "labels": false, "title": null}}
      }
    },
    {
      "data": {"values": [{"x": 0.3, "y": -6.855}]},
      "mark": {"type": "point", "shape": "M0,-1L0.2245,-0.309L0.9511,-0.309L0.3633,0.118L0.5878,0.809L0,0.382L-0.5878,0.809L-0.3633,0.118L-0.9511,-0.309L-0.2245,-0.309Z", "filled": true, "color": "#ff0000", "opacity": 1, "size": 2100},
      "encoding": {
        "x": {"field": "x", "type": "quantitative", "scale": {"domain": [-6.2747, 0.32], "nice": false, "zero": false},
          "axis": {"orient": "bottom", "values": [-1.9, -1.8, -1.7, -1.6, -1.4, -1.3, -1.2, -1.1, -0.9, -0.8, -0.7, -0.6, -0.4, -0.3, -0.2, -0.1, 0.1, 0.2, 0.3], "tickSize": -9, "labels": false, "title": null}},
        "y": {"field": "y", "type": "quantitative", "scale": {"domain": [-8, -5], "nice": false, "zero": false},
          "axis": {"orient": "left", "offset": -1100, "values": [-7.9, -7.8, -7.7, -7.6, -7.4, -7.3, -7.2, -7.1, -6.9, -6.8, -6.7, -6.6, -6.4, -6.3, -6.2, -6.1, -5.9, -5.8, -5.7, -5.6, -5.4, -5.3, -5.2, -5.1], "tickSize": -9, "labels": false, "title": null}}
      }
    },
    {
      "data": {"values": [{"xs": 1.307, "ys": -7.888, "xe": 0.4765, "ye": -7.005}]},
      "mark": {"type": "rule", "color": "#ff0000", "strokeWidth": 5.5},
      "encoding": {
        "x": {"field": "xs", "type": "quantitative", "scale": {"domain": [-2, 4.5947], "nice": false, "zero": false}, "axis": null},
        "y": {"field": "ys", "type": "quantitative", "scale": {"domain": [-8, -5], "nice": false, "zero": false}, "axis": null},
        "x2": {"field": "xe"},
        "y2": {"field": "ye"}
      }
    },
    {
      "data": {"values": [{"x": 0.4637, "y": -6.992, "ang": 312}]},
      "mark": {"type": "point", "shape": "triangle-up", "filled": true, "color": "#ff0000", "opacity": 1, "size": 600},
      "encoding": {
        "x": {"field": "x", "type": "quantitative", "scale": {"domain": [-2, 4.5947], "nice": false, "zero": false}, "axis": null},
        "y": {"field": "y", "type": "quantitative", "scale": {"domain": [-8, -5], "nice": false, "zero": false}, "axis": null},
        "angle": {"field": "ang", "type": "quantitative", "scale": null}
      }
    },
    {
      "data": {"values": [{"x": 1.354, "y": -8.11, "t": "NS-NS merger"}, {"x": 1.354, "y": -8.37, "t": "GRB170817A"}]},
      "mark": {"type": "text", "color": "#ff0000", "font": "Liberation Sans", "fontSize": 46, "align": "center", "baseline": "alphabetic"},
      "encoding": {
        "x": {"field": "x", "type": "quantitative", "scale": {"domain": [-2, 4.5947], "nice": false, "zero": false}, "axis": null},
        "y": {"field": "y", "type": "quantitative", "scale": {"domain": [-8, -5], "nice": false, "zero": false}, "axis": null},
        "text": {"field": "t"}
      }
    },
    {
      "data": {"values": [{"xs": -2.968, "ys": -7.897, "xe": 0.1162, "ye": -6.9628}]},
      "mark": {"type": "rule", "color": "#ff0000", "strokeWidth": 5.5},
      "encoding": {
        "x": {"field": "xs", "type": "quantitative", "scale": {"domain": [-6.2747, 0.32], "nice": false, "zero": false}, "axis": null},
        "y": {"field": "ys", "type": "quantitative", "scale": {"domain": [-8, -5], "nice": false, "zero": false}, "axis": null},
        "x2": {"field": "xe"},
        "y2": {"field": "ye"}
      }
    },
    {
      "data": {"values": [{"x": 0.1325, "y": -6.958, "ang": 75.6}]},
      "mark": {"type": "point", "shape": "triangle-up", "filled": true, "color": "#ff0000", "opacity": 1, "size": 600},
      "encoding": {
        "x": {"field": "x", "type": "quantitative", "scale": {"domain": [-6.2747, 0.32], "nice": false, "zero": false}, "axis": null},
        "y": {"field": "y", "type": "quantitative", "scale": {"domain": [-8, -5], "nice": false, "zero": false}, "axis": null},
        "angle": {"field": "ang", "type": "quantitative", "scale": null}
      }
    }
  ]
}
